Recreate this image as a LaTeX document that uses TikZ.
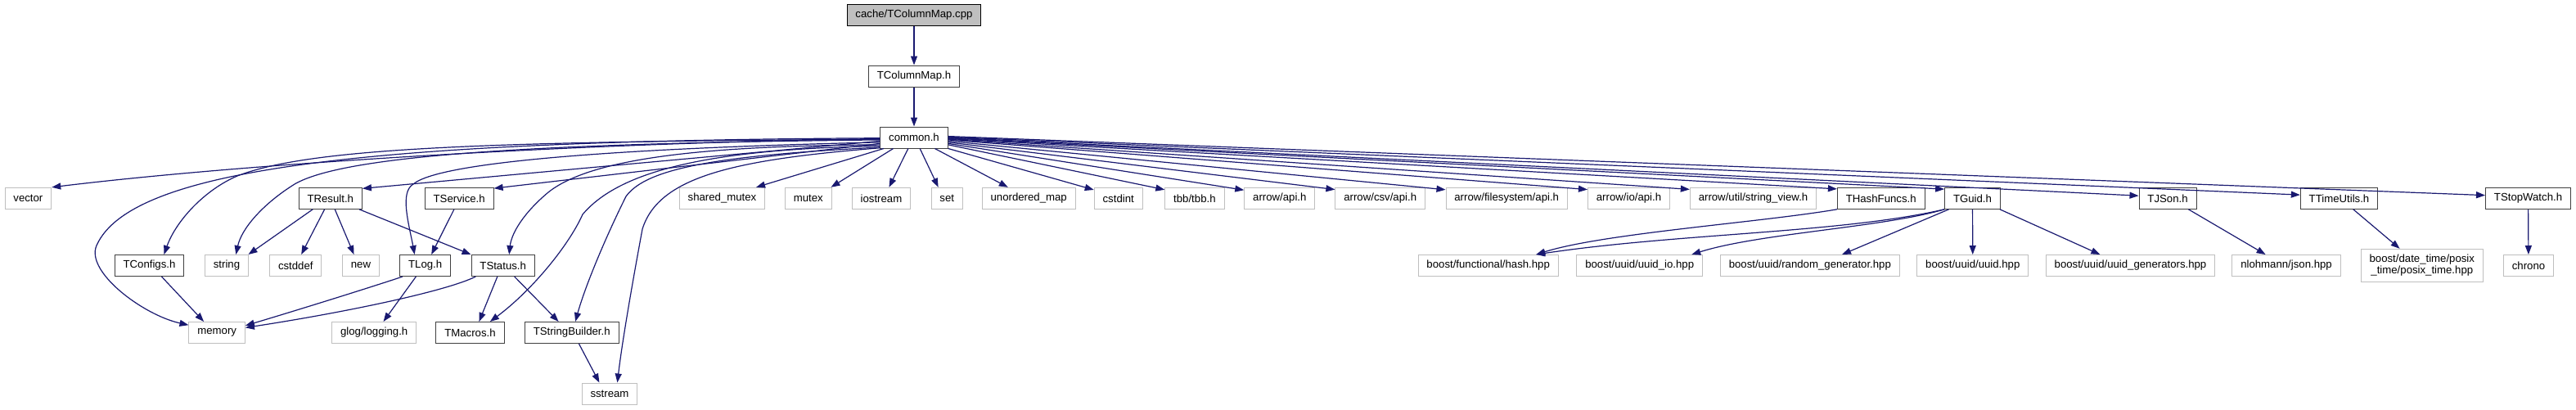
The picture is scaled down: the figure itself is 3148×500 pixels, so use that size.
\documentclass[tikz,border=0pt]{standalone}
\usepackage{fontspec}
\setmainfont{Liberation Sans}
\usepackage{xcolor}
\usetikzlibrary{arrows.meta}

\definecolor{edgeblue}{HTML}{191970}
\definecolor{sysgray}{HTML}{BFBFBF}
\definecolor{hdrgray}{HTML}{404040}

\tikzset{
  filebox/.style={rectangle, draw, line width=0.5pt, fill=white, inner xsep=5.2pt, inner ysep=0pt,
    minimum height=13pt, font=\fontsize{6.6}{7.2}\selectfont},
  hdr/.style={filebox, draw=hdrgray},
  syshdr/.style={filebox, draw=sysgray},
  rootfile/.style={filebox, draw=black, fill=sysgray},
  inc/.style={draw=edgeblue, line width=0.6pt, -{Triangle[length=5.5pt,width=4pt]}}
}

\begin{document}
\begin{tikzpicture}[x=0.5pt,y=0.5pt,yscale=-1,xscale=1]
\useasboundingbox (0,0) rectangle (3148,500);

% Text Node
\node [rootfile] (cpp) at (1117,18.5) {cache/TColumnMap.cpp};
% Text Node
\node [hdr] (tcolumnmap) at (1117,93) {TColumnMap.h};
% Text Node
\node [hdr] (common) at (1117,168) {common.h};

% first row
\node [syshdr] (vector) at (34.4,242.3) {vector};
\node [hdr] (tresult) at (403.8,242.3) {TResult.h};
\node [hdr] (tservice) at (561.2,242.3) {TService.h};
\node [syshdr] (sharedmutex) at (882.5,242.3) {shared\_mutex};
\node [syshdr] (mutex) at (987.8,242.3) {mutex};
\node [syshdr] (iostream) at (1077,242.3) {iostream};
\node [syshdr] (set) at (1157.2,242.3) {set};
\node [syshdr] (unorderedmap) at (1257.2,242.3) {unordered\_map};
\node [syshdr] (cstdint) at (1366.7,242.3) {cstdint};
\node [syshdr] (tbb) at (1459.9,242.3) {tbb/tbb.h};
\node [syshdr] (arrowapi) at (1563.8,242.3) {arrow/api.h};
\node [syshdr] (arrowcsv) at (1686.7,242.3) {arrow/csv/api.h};
\node [syshdr] (arrowfs) at (1841.2,242.3) {arrow/filesystem/api.h};
\node [syshdr] (arrowio) at (1990.5,242.3) {arrow/io/api.h};
\node [syshdr] (arrowsv) at (2142.5,242.3) {arrow/util/string\_view.h};
\node [hdr] (thash) at (2298.7,242.3) {THashFuncs.h};
\node [hdr] (tguid) at (2410.5,242.3) {TGuid.h};
\node [hdr] (tjson) at (2649,242.3) {TJSon.h};
\node [hdr] (ttime) at (2858.5,242.3) {TTimeUtils.h};
\node [hdr] (tstop) at (3089.5,242.3) {TStopWatch.h};

% second row
\node [hdr] (tconfigs) at (182.5,324.5) {TConfigs.h};
\node [syshdr] (string) at (277,324.5) {string};
\node [syshdr] (cstddef) at (361.3,324.5) {cstddef};
\node [syshdr] (new) at (441,324.5) {new};
\node [hdr] (tlog) at (519.7,324.5) {TLog.h};
\node [hdr] (tstatus) at (614.7,324.5) {TStatus.h};
\node [syshdr] (boosthash) at (1818.7,324.5) {boost/functional/hash.hpp};
\node [syshdr] (uuidio) at (2003.7,324.5) {boost/uuid/uuid\_io.hpp};
\node [syshdr] (randgen) at (2211.8,324.5) {boost/uuid/random\_generator.hpp};
\node [syshdr] (uuid) at (2410.8,324.5) {boost/uuid/uuid.hpp};
\node [syshdr] (uuidgen) at (2603.5,324.5) {boost/uuid/uuid\_generators.hpp};
\node [syshdr] (json) at (2794,324.5) {nlohmann/json.hpp};
\node [syshdr, align=center, minimum height=20pt] (posix) at (2959.8,324.3) {boost/date\_time/posix\\\_time/posix\_time.hpp};
\node [syshdr] (chrono) at (3090,324.5) {chrono};

% third and fourth row
\node [syshdr] (memory) at (265.2,406.5) {memory};
\node [syshdr] (glog) at (457.2,406.5) {glog/logging.h};
\node [hdr] (tmacros) at (574.5,406.5) {TMacros.h};
\node [hdr] (tsb) at (698.7,406.5) {TStringBuilder.h};
\node [syshdr] (sstream) at (745,481) {sstream};

%Straight Lines
\draw [inc] (cpp) -- (tcolumnmap);
\draw [inc] (tcolumnmap) -- (common);

%Curve Lines
\draw [inc] (common.182) .. controls (700,175) and (300,200) .. (vector.north east);
\draw [inc] (common.181) .. controls (450,172) and (160,205) .. (118,300) .. controls (104,332) and (175,385) .. (memory.165);
\draw [inc] (common.183) .. controls (600,173) and (380,180) .. (290,215) .. controls (250,232) and (215,270) .. (tconfigs.37);
\draw [inc] (common.184) .. controls (650,175) and (420,190) .. (360,225) .. controls (320,250) and (295,280) .. (string.50);
\draw [inc] (common.186) -- (tresult.17);
\draw [inc] (common.188) .. controls (800,180) and (540,195) .. (505,225) .. controls (488,235) and (500,275) .. (tlog.134);
\draw [inc] (common.190) -- (tservice.16);
\draw [inc] (common.192) .. controls (850,178) and (720,195) .. (670,235) .. controls (640,260) and (625,285) .. (tstatus.61);
\draw [inc] (common.194) .. controls (880,182) and (760,205) .. (712,262) .. controls (695,300) and (650,355) .. (tmacros.29);
\draw [inc] (common.196) .. controls (880,190) and (790,205) .. (765,240) .. controls (740,290) and (715,350) .. (tsb.72);
\draw [inc] (common.197) .. controls (900,195) and (805,215) .. (785,280) .. controls (772,350) and (760,420) .. (sstream.55);

%Straight Lines
\draw [inc] (common.200) -- (sharedmutex.18);
\draw [inc] (common.208) -- (mutex.26);
\draw [inc] (common.242) -- (iostream.55);
\draw [inc] (common.298) -- (set.128);
\draw [inc] (common.332) -- (unorderedmap.152);
\draw [inc] (common.south east) -- (cstdint.161);
\draw [inc] (common.348) -- (tbb.164);
\draw [inc] (common.350) -- (arrowapi.167);
\draw [inc] (common.352) -- (arrowcsv.169);
\draw [inc] (common.354) -- (arrowfs.172);
\draw [inc] (common.356) -- (arrowio.168);
\draw [inc] (common.357) -- (arrowsv.172);
\draw [inc] (common.358) -- (thash.168);
\draw [inc] (common.359) -- (tguid.162);
\draw [inc] (common.east) -- (tjson.175);
\draw [inc] (common.1) -- (ttime.175);
\draw [inc] (common.2) -- (tstop.176);

%Straight Lines
\draw [inc] (tresult.212) -- (string.27);
\draw [inc] (tresult.242) -- (cstddef.63);
\draw [inc] (tresult.292) -- (new.122);
\draw [inc] (tresult.339) -- (tstatus.north west);
\draw [inc] (tservice.245) -- (tlog.61);
\draw [inc] (tconfigs.318) -- (memory.140);
\draw [inc] (tlog.206) .. controls (450,352) and (360,380) .. (memory.14);
\draw [inc] (tlog.230) -- (glog.50);
\draw [inc] (tstatus.202) .. controls (545,356) and (420,382) .. (memory.10);
\draw [inc] (tstatus.243) -- (tmacros.51);
\draw [inc] (tstatus.316) -- (tsb.140);
\draw [inc] (tsb.303) -- (sstream.133);

%Curve Lines
\draw [inc] (thash.south west) .. controls (2150,272) and (1960,285) .. (boosthash.13);
\draw [inc] (tguid.south west) .. controls (2250,285) and (2050,285) .. (boosthash.13);
\draw [inc] (tguid.south west) .. controls (2300,278) and (2150,285) .. (uuidio.12);
\draw [inc] (tguid.205) -- (randgen.19);
\draw [inc] (tguid) -- (uuid);
\draw [inc] (tguid.338) -- (uuidgen.160);
\draw [inc] (tjson.332) -- (json.152);
\draw [inc] (ttime.322) -- (posix.143);
\draw [inc] (tstop) -- (chrono);

\end{tikzpicture}
\end{document}
